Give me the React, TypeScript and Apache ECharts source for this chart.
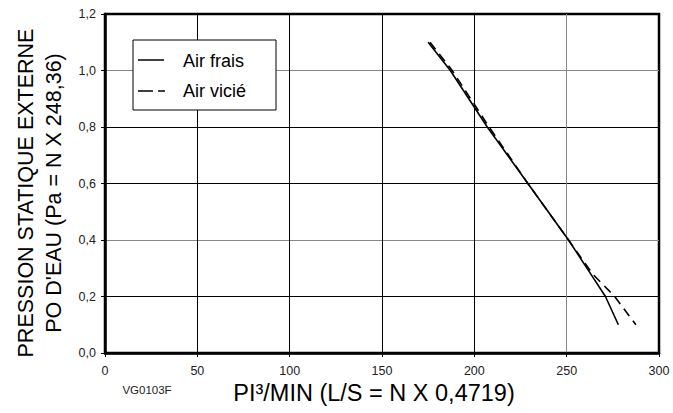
import React, { useEffect, useRef } from "react";
import * as echarts from "echarts";

const xTicks = [0, 50, 100, 150, 200, 250, 300];
const yTicks = [0, 0.2, 0.4, 0.6, 0.8, 1.0, 1.2];
const seriesNames = ["Air frais", "Air vicié"];
const airFraisX = [175, 187, 207, 229, 251, 263, 271, 278];
const airFraisY = [1.1, 1.0, 0.8, 0.6, 0.4, 0.28, 0.2, 0.1];
const airVicieX = [176, 188, 208, 229, 251, 264, 276, 287.5];
const airVicieY = [1.1, 1.0, 0.8, 0.6, 0.4, 0.28, 0.2, 0.1];
const yTitle1 = "PRESSION STATIQUE EXTERNE";
const yTitle2 = "PO D'EAU (Pa = N X 248,36)";
const xTitle = "PI³/MIN (L/S = N X 0,4719)";
const codeLabel = "VG0103F";

const FONT = "Liberation Sans, Arial, sans-serif";

export default function App() {
  const ref = useRef<HTMLDivElement>(null);
  useEffect(() => {
    if (!ref.current) return;
    const chart = echarts.init(ref.current, undefined, { renderer: "svg" });
    const pair = (xs: number[], ys: number[]) => xs.map((x, i) => [x, ys[i]]);
    chart.setOption({
      animation: false,
      backgroundColor: "#fff",
      textStyle: { fontFamily: FONT },
      grid: {
        left: 105, right: 14, top: 14, bottom: 60,
        show: true, borderColor: "#000", borderWidth: 2.5, backgroundColor: "transparent",
      },
      xAxis: {
        type: "value", min: xTicks[0], max: xTicks[xTicks.length - 1], interval: 50,
        axisLine: { show: true, lineStyle: { color: "#000", width: 2.5 } },
        axisTick: { show: true, length: 4, lineStyle: { color: "#000", width: 1 } },
        axisLabel: { color: "#222", fontSize: 12.5, margin: 11, fontFamily: FONT },
        splitLine: { show: true, lineStyle: { color: ["#000", "#000", "#000", "#000", "#000", "#888", "#000"], width: 1 } },
      },
      yAxis: {
        type: "value", min: yTicks[0], max: yTicks[yTicks.length - 1], interval: 0.2,
        axisLine: { show: true, lineStyle: { color: "#000", width: 2.5 } },
        axisTick: { show: true, length: 4, lineStyle: { color: "#000", width: 1 } },
        axisLabel: {
          color: "#222", fontSize: 12.5, margin: 9, fontFamily: FONT,
          formatter: (v: number) => v.toFixed(1).replace(".", ","),
        },
        splitLine: { show: true, lineStyle: { color: ["#000", "#000", "#888", "#000", "#000", "#888", "#000"], width: 1 } },
      },
      series: [
        {
          name: seriesNames[0], type: "line", data: pair(airFraisX, airFraisY),
          showSymbol: false, lineStyle: { color: "#000", width: 1.6, type: "solid" }, z: 3,
        },
        {
          name: seriesNames[1], type: "line", data: pair(airVicieX, airVicieY),
          showSymbol: false, lineStyle: { color: "#000", width: 1.6, type: [9, 6] }, z: 3,
        },
      ],
      graphic: [
        { type: "rect", shape: { x: 133, y: 40, width: 143, height: 70 }, style: { fill: "#fff", stroke: "#000", lineWidth: 1 }, z: 10 },
        { type: "line", shape: { x1: 138, y1: 60, x2: 164, y2: 60 }, style: { stroke: "#000", lineWidth: 1.5 }, z: 11 },
        { type: "line", shape: { x1: 138, y1: 91, x2: 165, y2: 91 }, style: { stroke: "#000", lineWidth: 1.5, lineDash: [15, 5] }, z: 11 },
        { type: "text", x: 183, y: 61, style: { text: seriesNames[0], fontSize: 18, fill: "#000", fontFamily: FONT, verticalAlign: "middle" }, z: 11 },
        { type: "text", x: 183, y: 91, style: { text: seriesNames[1], fontSize: 18, fill: "#000", fontFamily: FONT, verticalAlign: "middle" }, z: 11 },
        { type: "text", x: 26, y: 193, rotation: Math.PI / 2, style: { text: yTitle1, fontSize: 21.5, fill: "#000", fontFamily: FONT, align: "center", verticalAlign: "middle" } },
        { type: "text", x: 54, y: 193, rotation: Math.PI / 2, style: { text: yTitle2, fontSize: 21.5, fill: "#000", fontFamily: FONT, align: "center", verticalAlign: "middle" } },
        { type: "text", x: 374, y: 393, style: { text: xTitle, fontSize: 23.5, fill: "#000", fontFamily: FONT, align: "center", verticalAlign: "middle" } },
        { type: "text", x: 147, y: 390, style: { text: codeLabel, fontSize: 11.5, fill: "#222", fontFamily: FONT, align: "center", verticalAlign: "middle" } },
      ],
    });
    return () => chart.dispose();
  }, []);
  return <div ref={ref} style={{ width: 673, height: 413, position: "absolute", left: 0, top: 0 }} />;
}
